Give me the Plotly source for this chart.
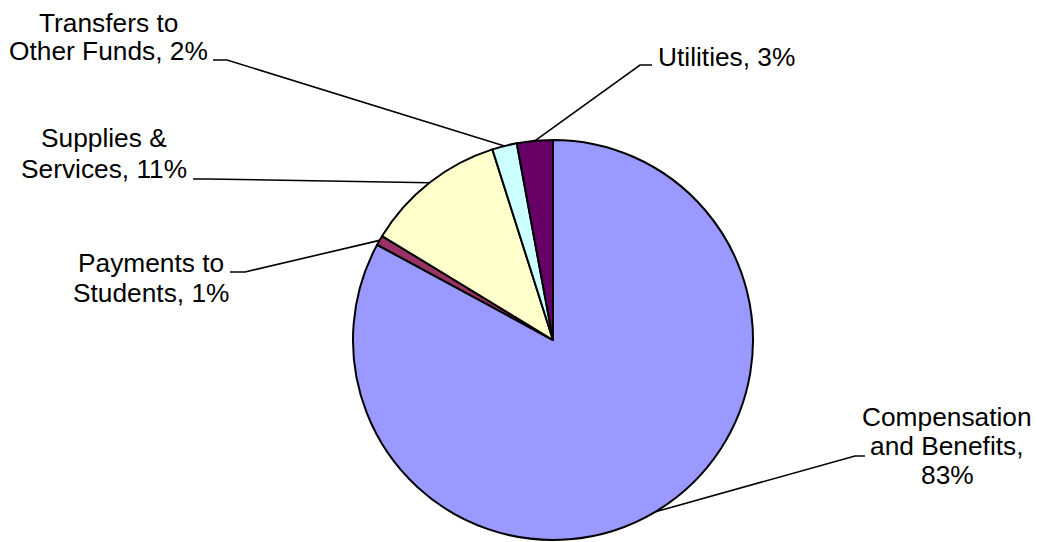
import math
import plotly.graph_objects as go

# ---- data ----
categories = ["Compensation and Benefits", "Payments to Students", "Supplies & Services",
              "Transfers to Other Funds", "Utilities"]
values = [82.9, 0.8, 11.4, 2.0, 2.9]
label_lines = [["Compensation", "and Benefits,", "{p}%"],
               ["Payments to", "Students, {p}%"],
               ["Supplies &", "Services, {p}%"],
               ["Transfers to", "Other Funds, {p}%"],
               ["Utilities, {p}%"]]
colors = ["#9999FF", "#993366", "#FFFFCC", "#CCFFFF", "#660066"]

# ---- layout constants (pixels) ----
W, H = 1038, 542
CX, CY, R = 553, 340, 200
FS = 26.3
# text center x, first baseline y, line step, anchor
text_pos = [(947, 426, 29, "center"),
            (151, 272, 30, "center"),
            (104, 147, 31.5, "center"),
            (108, 32, 28.5, "center"),
            (657, 66, 29, "left")]
# leader: text-side point, elbow point
leader_pts = [((865, 456), (855, 456)),
              ((230, 272), (245, 272)),
              ((193, 179), (207, 179)),
              ((213, 60), (227, 60)),
              ((652, 65), (640, 65))]

def px(x):
    return x / W

def py(y):
    return 1 - y / H

fig = go.Figure(go.Pie(
    labels=categories, values=values, sort=False, direction="clockwise", rotation=0,
    marker=dict(colors=colors, line=dict(color="black", width=2)),
    textinfo="none", hoverinfo="label+percent", showlegend=False,
    domain=dict(x=[px(CX - R), px(CX + R)], y=[py(CY + R), py(CY - R)]),
))

total = sum(values)
annotations = []
shapes = []
cum = 0.0
for i, v in enumerate(values):
    mid = (cum + v / 2) / total * 2 * math.pi
    cum += v
    ex = CX + R * math.sin(mid)
    ey = CY - R * math.cos(mid)
    pct = round(v / total * 100)
    tx, ty, step, anc = text_pos[i]
    for k, line in enumerate(label_lines[i]):
        annotations.append(dict(
            text=line.format(p=pct), x=px(tx), y=py(ty + k * step - 0.347 * FS),
            xref="paper", yref="paper", xanchor=anc, yanchor="middle",
            showarrow=False, borderpad=0,
            font=dict(family="Arial, Liberation Sans, sans-serif", size=FS, color="black")))
    (ax, ay), (bx, by) = leader_pts[i]
    shapes.append(dict(
        type="path", xref="paper", yref="paper",
        path=f"M {px(ax)} {py(ay)} L {px(bx)} {py(by)} L {px(ex)} {py(ey)}",
        line=dict(color="black", width=1.6)))

fig.update_layout(
    width=W, height=H, margin=dict(l=0, r=0, t=0, b=0),
    paper_bgcolor="white", plot_bgcolor="white",
    annotations=annotations, shapes=shapes,
)

fig.write_html("out.html", config={"displayModeBar": False},
               post_script="document.body.style.margin='0';document.body.style.overflow='hidden';")
